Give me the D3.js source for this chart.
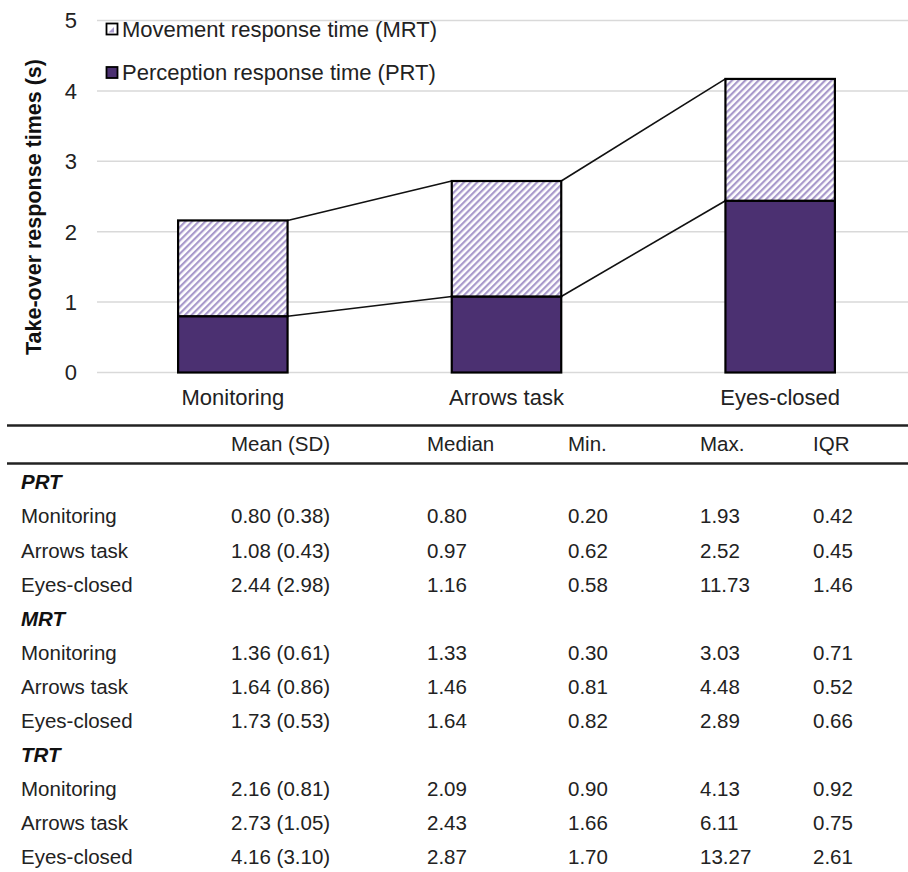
<!DOCTYPE html>
<html>
<head>
<meta charset="utf-8">
<script src="https://cdn.jsdelivr.net/npm/d3@7"></script>
<style>
  html, body { margin: 0; padding: 0; background: #fff; }
  svg { display: block; font-family: "Liberation Sans", Arial, sans-serif; }
</style>
</head>
<body>
<svg id="fig" width="908" height="872"></svg>
<script>
// Conditions shown on the x axis
const categories = ["Monitoring", "Arrows task", "Eyes-closed"];
// Mean perception response time (s)
const prtValues = [0.80, 1.08, 2.44];
// Mean movement response time (s), stacked on top of PRT
const mrtValues = [1.36, 1.64, 1.73];
const yTicks = [0, 1, 2, 3, 4, 5];

const seriesNames = ["Movement response time (MRT)", "Perception response time (PRT)"];

// Summary table
const columnHeaders = ["Mean (SD)", "Median", "Min.", "Max.", "IQR"];
const groupNames = ["PRT", "MRT", "TRT"];
const prtMeanSD = ["0.80 (0.38)", "1.08 (0.43)", "2.44 (2.98)"];
const prtMedian = ["0.80", "0.97", "1.16"];
const prtMin = ["0.20", "0.62", "0.58"];
const prtMax = ["1.93", "2.52", "11.73"];
const prtIQR = ["0.42", "0.45", "1.46"];
const mrtMeanSD = ["1.36 (0.61)", "1.64 (0.86)", "1.73 (0.53)"];
const mrtMedian = ["1.33", "1.46", "1.64"];
const mrtMin = ["0.30", "0.81", "0.82"];
const mrtMax = ["3.03", "4.48", "2.89"];
const mrtIQR = ["0.71", "0.52", "0.66"];
const trtMeanSD = ["2.16 (0.81)", "2.73 (1.05)", "4.16 (3.10)"];
const trtMedian = ["2.09", "2.43", "2.87"];
const trtMin = ["0.90", "1.66", "1.70"];
const trtMax = ["4.13", "6.11", "13.27"];
const trtIQR = ["0.92", "0.75", "2.61"];

const svg = d3.select("#fig");
const purple = "#4b3071";
const lavender = "#a899cb";

// Diagonal hatch for the MRT segment
const defs = svg.append("defs");
const pat = defs.append("pattern")
  .attr("id", "hatch")
  .attr("patternUnits", "userSpaceOnUse")
  .attr("width", 4.7).attr("height", 10)
  .attr("patternTransform", "rotate(45)");
pat.append("rect").attr("width", 4.7).attr("height", 10).attr("fill", "#fff");
pat.append("rect").attr("width", 2.2).attr("height", 10).attr("fill", lavender);

// ---------- Chart ----------
const x = d3.scaleBand().domain(categories).range([96, 917])
  .paddingInner(0.6).paddingOuter(0.3);
const y = d3.scaleLinear().domain([0, 5]).range([372.5, 20.5]);
const chartFont = 22;

// gridlines
svg.append("g").selectAll("line").data(yTicks).join("line")
  .attr("x1", 97).attr("x2", 908)
  .attr("y1", d => y(d)).attr("y2", d => y(d))
  .attr("stroke", "#d9d9d9").attr("stroke-width", 1.5);

// tick labels
svg.append("g").selectAll("text").data(yTicks).join("text")
  .attr("x", 77).attr("y", d => y(d) + 7.8)
  .attr("text-anchor", "end")
  .attr("font-size", chartFont).attr("fill", "#222")
  .text(d => d);

// y-axis title
svg.append("text")
  .attr("transform", "translate(41,207) rotate(-90)")
  .attr("text-anchor", "middle")
  .attr("font-size", 21.5).attr("font-weight", "bold").attr("fill", "#111")
  .text("Take-over response times (s)");

// stacked data
const stacked = categories.map((c, i) => ({
  cat: c, prt: prtValues[i], total: prtValues[i] + mrtValues[i]
}));

// series lines between bar tops
const linesG = svg.append("g");
for (let i = 0; i < stacked.length - 1; i++) {
  const a = stacked[i], b = stacked[i + 1];
  ["prt", "total"].forEach(k => {
    linesG.append("line")
      .attr("x1", x(a.cat) + x.bandwidth()).attr("y1", y(a[k]))
      .attr("x2", x(b.cat)).attr("y2", y(b[k]))
      .attr("stroke", "#111").attr("stroke-width", 1.6);
  });
}

// bars
const barsG = svg.append("g");
barsG.selectAll("rect.prt").data(stacked).join("rect")
  .attr("class", "prt")
  .attr("x", d => x(d.cat)).attr("width", x.bandwidth())
  .attr("y", d => y(d.prt)).attr("height", d => y(0) - y(d.prt))
  .attr("fill", purple).attr("stroke", "#000").attr("stroke-width", 2.2);
barsG.selectAll("rect.mrt").data(stacked).join("rect")
  .attr("class", "mrt")
  .attr("x", d => x(d.cat)).attr("width", x.bandwidth())
  .attr("y", d => y(d.total)).attr("height", d => y(d.prt) - y(d.total))
  .attr("fill", "url(#hatch)").attr("stroke", "#000").attr("stroke-width", 2.2);

// category labels
svg.append("g").selectAll("text").data(categories).join("text")
  .attr("x", d => x(d) + x.bandwidth() / 2).attr("y", 405)
  .attr("text-anchor", "middle")
  .attr("font-size", chartFont).attr("fill", "#222")
  .text(d => d);

// legend
const legend = svg.append("g");
const legendFills = ["#fff", purple];
seriesNames.forEach((name, i) => {
  const cy = 29 + i * 43.5;
  legend.append("rect")
    .attr("x", 106.5).attr("y", cy - 5.5).attr("width", 11).attr("height", 11)
    .attr("fill", legendFills[i]).attr("stroke", "#000").attr("stroke-width", 1.8);
  legend.append("text")
    .attr("x", 122).attr("y", cy + 7.8)
    .attr("font-size", chartFont).attr("fill", "#222")
    .text(name);
});
// small lavender corner inside the MRT legend key
legend.append("path")
  .attr("d", "M108.5,32.5 L114,27 L114,32.5 Z")
  .attr("fill", lavender);

// ---------- Table ----------
const tableFont = 20.5;
const colX = [21, 231, 427, 568, 700, 813];
const table = svg.append("g");

table.append("line").attr("x1", 7).attr("x2", 908).attr("y1", 425.5).attr("y2", 425.5)
  .attr("stroke", "#222").attr("stroke-width", 2.5);
table.append("line").attr("x1", 7).attr("x2", 908).attr("y1", 463.5).attr("y2", 463.5)
  .attr("stroke", "#222").attr("stroke-width", 2.5);

columnHeaders.forEach((h, j) => {
  table.append("text").attr("x", colX[j + 1]).attr("y", 444 + 7.3)
    .attr("font-size", tableFont).attr("fill", "#222").text(h);
});

const groups = [
  [prtMeanSD, prtMedian, prtMin, prtMax, prtIQR],
  [mrtMeanSD, mrtMedian, mrtMin, mrtMax, mrtIQR],
  [trtMeanSD, trtMedian, trtMin, trtMax, trtIQR]
];
const rowStep = 34.1;
let rowY = 482;
groups.forEach((cols, g) => {
  table.append("text").attr("x", colX[0]).attr("y", rowY + 7.3)
    .attr("font-size", tableFont).attr("font-weight", "bold").attr("font-style", "italic")
    .attr("fill", "#111").text(groupNames[g]);
  rowY += rowStep;
  categories.forEach((c, r) => {
    table.append("text").attr("x", colX[0]).attr("y", rowY + 7.3)
      .attr("font-size", tableFont).attr("fill", "#222").text(c);
    cols.forEach((col, j) => {
      table.append("text").attr("x", colX[j + 1]).attr("y", rowY + 7.3)
        .attr("font-size", tableFont).attr("fill", "#222").text(col[r]);
    });
    rowY += rowStep;
  });
});
</script>
</body>
</html>
